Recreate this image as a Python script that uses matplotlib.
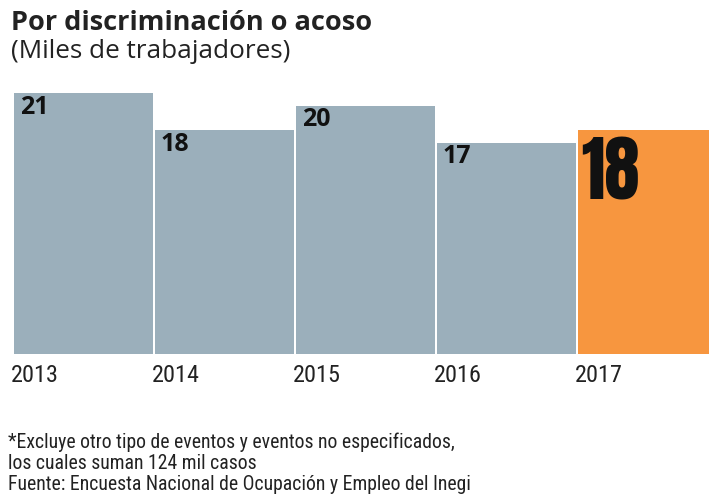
import matplotlib.pyplot as plt

years = ["2013", "2014", "2015", "2016", "2017"]
values = [21, 18, 20, 17, 18]
labels = ["21", "18", "20", "17", "18"]

gray = "#9bafbb"
orange = "#f7963f"
colors = [gray, gray, gray, gray, orange]

W, H = 709, 499
fig = plt.figure(figsize=(W / 100, H / 100), dpi=100)

# axes: left edge of first bar at x=14, baseline at y=354
ax = fig.add_axes([14 / W, (H - 354) / H, (W - 14) / W, 267 / H])
x = list(range(len(years)))
ax.bar(x, values, width=0.985, color=colors, align="edge")
ax.set_xlim(0, 695 / 141)
ax.set_ylim(0, 21.5)
ax.axis("off")

for i in range(4):
    ax.annotate(labels[i], (x[i], values[i]), xytext=(4, -1),
                textcoords="offset points", ha="left", va="top",
                fontsize=18, fontweight="bold", family="Open Sans", color="#111111")
# highlighted last value, big condensed figure
ax.annotate(labels[4], (x[4], values[4]), xytext=(2, -5),
            textcoords="offset points", ha="left", va="top",
            fontsize=51, family="Anton", color="#111111")

for i, y in enumerate(years):
    ax.annotate(y, (x[i], 0), xytext=(-2, -7), textcoords="offset points",
                ha="left", va="top", fontsize=17.5, family="Roboto Condensed",
                color="#222222")

fig.text(11 / W, 1 - 10 / H, "Por discriminación o acoso", ha="left", va="top",
         fontsize=19.5, fontweight="bold", family="Open Sans", color="#222222")
fig.text(11 / W, 1 - 39 / H, "(Miles de trabajadores)", ha="left", va="top",
         fontsize=18.8, family="Open Sans", color="#222222")

foot = ("*Excluye otro tipo de eventos y eventos no especificados,\n"
        "los cuales suman 124 mil casos\n"
        "Fuente: Encuesta Nacional de Ocupación y Empleo del Inegi")
fig.text(8 / W, 1 - 433 / H, foot, ha="left", va="top", fontsize=14.2,
         family="Roboto Condensed", color="#222222", linespacing=1.12)

plt.savefig("out.png", dpi=100)
